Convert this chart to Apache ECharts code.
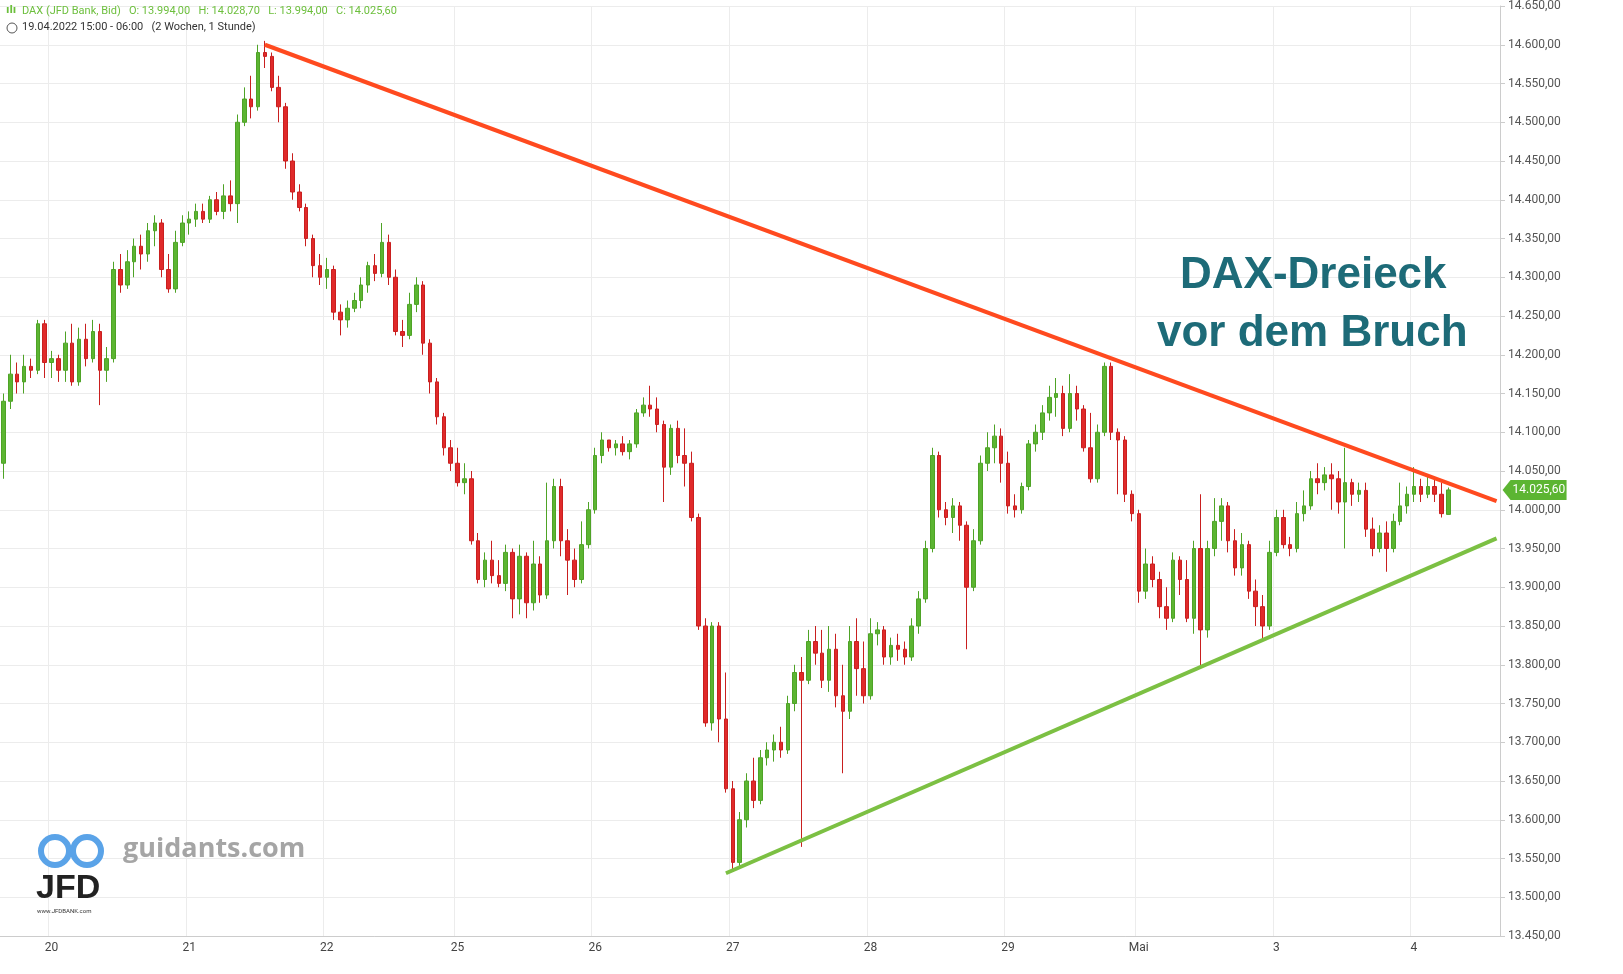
<!DOCTYPE html>
<html><head><meta charset="utf-8">
<script src="https://cdn.jsdelivr.net/npm/echarts@6/dist/echarts.min.js"></script>
<style>html,body{margin:0;padding:0;background:#fff}#c{width:1623px;height:974px}</style>
</head><body><div id="c"></div>
<script>
// each candle: [open, close, low, high]
const candles = [
[14060,14140,14040,14150],[14140,14175,14130,14200],[14175,14165,14150,14190],[14165,14185,14150,14200],[14185,14180,14170,14195],[14180,14240,14175,14245],[14240,14190,14170,14245],
[14190,14195,14170,14205],[14195,14180,14165,14200],[14180,14215,14165,14230],[14215,14165,14160,14240],[14165,14220,14160,14235],[14220,14195,14185,14240],[14195,14230,14190,14245],[14230,14180,14135,14240],[14180,14195,14165,14210],[14195,14310,14190,14320],[14310,14290,14280,14330],[14290,14320,14285,14335],[14320,14340,14300,14350],[14340,14330,14310,14355],[14330,14360,14320,14370],[14360,14370,14340,14380],[14370,14310,14300,14375],[14310,14285,14280,14330],[14285,14345,14280,14360],[14345,14370,14340,14380],
[14370,14375,14355,14385],[14375,14385,14365,14395],[14385,14375,14370,14395],[14375,14400,14370,14405],[14400,14385,14380,14410],[14385,14405,14375,14420],[14405,14395,14385,14425],[14395,14500,14370,14510],[14500,14530,14495,14545],[14530,14520,14505,14560],[14520,14590,14515,14600],[14590,14585,14570,14605],[14585,14545,14540,14590],[14545,14520,14500,14560],[14520,14450,14440,14525],[14450,14410,14400,14460],[14410,14390,14385,14420],[14390,14350,14340,14395],[14350,14315,14300,14355],[14315,14300,14290,14330],
[14300,14310,14285,14325],[14310,14255,14245,14315],[14255,14245,14225,14265],[14245,14260,14235,14270],[14260,14270,14255,14280],[14270,14290,14260,14300],[14290,14315,14280,14320],[14315,14305,14295,14330],[14305,14345,14300,14370],[14345,14300,14290,14355],[14300,14230,14225,14310],[14230,14225,14210,14245],[14225,14265,14220,14280],[14265,14290,14255,14300],[14290,14215,14200,14295],[14215,14165,14150,14220],[14165,14120,14110,14170],[14120,14080,14070,14125],[14080,14060,14050,14090],
[14060,14035,14030,14080],[14035,14040,14020,14060],[14040,13960,13955,14050],[13960,13910,13905,13970],[13910,13935,13900,13945],[13935,13915,13905,13960],[13915,13905,13900,13935],[13905,13945,13895,13955],[13945,13885,13860,13950],[13885,13940,13865,13955],[13940,13880,13860,13945],[13880,13930,13870,13960],[13930,13890,13880,13940],[13890,13960,13885,14035],[13960,14030,13950,14040],[14030,13960,13940,14040],[13960,13935,13890,13975],[13935,13910,13900,13950],[13910,13955,13905,13985],[13955,14000,13950,14010],
[14000,14070,13995,14080],[14070,14090,14060,14100],[14090,14080,14075,14090],[14080,14085,14070,14090],[14085,14075,14070,14095],[14075,14085,14065,14090],[14085,14125,14080,14130],[14125,14135,14120,14145],[14135,14130,14120,14160],[14130,14110,14100,14145],[14110,14055,14010,14115],[14055,14105,14045,14110],[14105,14070,14060,14115],[14070,14060,14030,14105],[14060,13990,13985,14075],[13990,13850,13845,13995],[13850,13725,13720,13860],[13725,13850,13715,13855],[13850,13730,13700,13855],[13730,13640,13635,13790],
[13640,13545,13535,13650],[13545,13600,13540,13610],[13600,13650,13590,13660],[13650,13625,13615,13680],[13625,13680,13620,13690],[13680,13690,13670,13700],[13690,13700,13675,13710],[13700,13690,13680,13720],[13690,13750,13685,13760],[13750,13790,13740,13800],[13790,13780,13565,13810],[13780,13830,13775,13845],[13830,13815,13800,13850],[13815,13780,13770,13845],[13780,13820,13765,13850],[13820,13760,13745,13840],[13760,13740,13660,13800],[13740,13830,13730,13850],[13830,13795,13760,13860],[13795,13760,13750,13830],
[13760,13840,13755,13860],[13840,13845,13825,13855],[13845,13810,13800,13850],[13810,13825,13800,13835],[13825,13820,13805,13840],[13820,13810,13800,13830],[13810,13850,13805,13860],[13850,13885,13840,13895],[13885,13950,13880,13960],[13950,14070,13945,14080],[14070,14000,13990,14075],[14000,13990,13980,14010],[13990,14005,13970,14015],[14005,13980,13960,14010],[13980,13900,13820,13985],[13900,13960,13895,13975],[13960,14060,13955,14070],[14060,14080,14050,14100],[14080,14095,14060,14110],[14095,14060,14035,14105],
[14060,14005,13995,14075],[14005,14000,13990,14020],[14000,14030,13995,14035],[14030,14085,14025,14090],[14085,14100,14075,14110],[14100,14125,14090,14135],[14125,14145,14115,14160],[14145,14150,14120,14170],[14150,14105,14095,14160],[14105,14150,14100,14175],[14150,14130,14115,14160],[14130,14080,14075,14135],[14080,14040,14035,14125],[14040,14100,14035,14110],[14100,14185,14095,14190],[14185,14100,14090,14190],[14100,14090,14020,14105],[14090,14020,14010,14095],[14020,13995,13985,14025],
[13995,13895,13880,14000],[13895,13930,13885,13950],[13930,13910,13900,13940],[13910,13875,13860,13920],[13875,13860,13845,13900],[13860,13935,13855,13945],[13935,13910,13890,13940],[13910,13860,13855,13935],[13860,13950,13840,13960],[13950,13845,13795,14020],[13845,13950,13835,13960],[13950,13985,13940,14015],[13985,14005,13960,14015],[14005,13960,13945,14010],[13960,13925,13915,13975],[13925,13955,13915,13970],[13955,13895,13885,13960],[13895,13875,13850,13910],[13875,13850,13830,13890],[13850,13945,13845,13960],
[13945,13990,13940,14000],[13990,13955,13950,14000],[13955,13950,13940,13965],[13950,13995,13945,14010],[13995,14005,13985,14025],[14005,14040,14000,14050],[14040,14035,14020,14060],[14035,14045,14025,14055],[14045,14040,14000,14060],[14040,14010,13995,14050],[14010,14035,13950,14080],[14035,14020,14005,14040],[14020,14025,14010,14035],[14025,13975,13965,14035],[13975,13950,13940,13990],[13950,13970,13945,13980],[13970,13950,13920,13985],[13950,13985,13945,13995],[13985,14005,13980,14035],[14005,14020,13995,14030],
[14020,14030,14010,14055],[14030,14020,14010,14040],[14020,14030,14015,14045],[14030,14020,14010,14040],[14020,13995,13990,14035],[13994,14025.6,13994,14028.7]
];
const emptySlots = 7;
const dayStarts = [7,27,47,66,86,106,126,146,165,185,205];
const dayLabels = ['20','21','22','25','26','27','28','29','Mai','3','4'];
const redLine = [[38,14600],[217,14011]];
const greenLine = [[105,13531],[217,13963]];
const lastPrice = 14025.6;

const n = candles.length + emptySlots;
const cats = Array.from({length:n},()=> '');
dayStarts.forEach((d,k)=>cats[d]=dayLabels[k]);
const fmt = v => v.toFixed(2).replace('.',',').replace(/\B(?=(\d{3})+(?!\d))/g,'.');
const show = (i,v)=> v!=='';

const chart = echarts.init(document.getElementById('c'));
chart.setOption({
  animation:false,
  grid:{left:0,right:123,top:6,bottom:38},
  xAxis:{type:'category',data:cats,boundaryGap:true,
    axisLine:{lineStyle:{color:'#ccc'}},axisTick:{interval:show,alignWithLabel:true,lineStyle:{color:'#999'}},
    axisLabel:{interval:show,color:'#444',fontSize:12,fontFamily:'Roboto',margin:6},
    splitLine:{show:true,interval:show,lineStyle:{color:'#ececec'}}},
  yAxis:{type:'value',position:'right',min:13450,max:14650,interval:50,
    axisLine:{show:true,lineStyle:{color:'#ccc'}},axisTick:{show:true,lineStyle:{color:'#ccc'}},
    axisLabel:{formatter:fmt,color:'#555',fontSize:12,fontFamily:'Roboto',margin:8},
    splitLine:{lineStyle:{color:'#ececec'}}},
  series:[
    {type:'candlestick',data:candles.map(c=>[c[0],c[1],c[2],c[3]]),barWidth:4,
     itemStyle:{color:'#5cb532',color0:'#e02a2a',borderColor:'#4ea326',borderColor0:'#c91f1f',borderWidth:1}},
    {type:'line',data:redLine,symbol:'none',lineStyle:{color:'#ff4a1f',width:4},z:5},
    {type:'line',data:greenLine,symbol:'none',lineStyle:{color:'#7cc043',width:4},z:5}
  ]
});
const py = chart.convertToPixel({yAxisIndex:0}, lastPrice);
const px = chart.convertToPixel({xAxisIndex:0}, n-1) + 4;
chart.setOption({graphic:[
    {type:'text',left:22,top:6,style:{text:'DAX (JFD Bank, Bid)   O: 13.994,00   H: 14.028,70   L: 13.994,00   C: 14.025,60',fill:'#6cbf3c',font:'11px Roboto'}},
    {type:'text',left:6,top:5,style:{text:'ılı',fill:'#6cbf3c',font:'bold 10px "DejaVu Sans"'}},
    {type:'circle',shape:{cx:12,cy:28,r:5},style:{fill:'none',stroke:'#555',lineWidth:1}},
    {type:'text',left:22,top:22,style:{text:'19.04.2022 15:00 - 06:00   (2 Wochen, 1 Stunde)',fill:'#333',font:'11px Roboto'}},
    {type:'text',left:1180,top:254,style:{text:'DAX-Dreieck',fill:'#1d6b78',font:'bold 44px "Liberation Sans"'}},
    {type:'text',left:1157,top:312,style:{text:'vor dem Bruch',fill:'#1d6b78',font:'bold 44px "Liberation Sans"'}},
    {type:'text',left:123,top:836,style:{text:'guidants.com',fill:'#a5a5a5',font:'bold 27px "Open Sans"'}},
    {type:'circle',shape:{cx:55,cy:851,r:14},style:{fill:'none',stroke:'#5aa3e8',lineWidth:6}},
    {type:'circle',shape:{cx:87,cy:851,r:14},style:{fill:'none',stroke:'#5aa3e8',lineWidth:6}},
    {type:'text',left:36,top:872,style:{text:'JFD',fill:'#222',font:'bold 34px "Liberation Sans"'}},
    {type:'text',left:37,top:908,style:{text:'www.JFDBANK.com',fill:'#333',font:'6px Roboto'}},
    {type:'polygon',shape:{points:[[px+2,py],[px+10,py-10],[px+66,py-10],[px+66,py+10],[px+10,py+10]]},style:{fill:'#5cb532'},z:100},
    {type:'text',x:px+12,y:py,style:{text:fmt(lastPrice),fill:'#fff',font:'12px Roboto',verticalAlign:'middle'},z:101}
]});
</script></body></html>
